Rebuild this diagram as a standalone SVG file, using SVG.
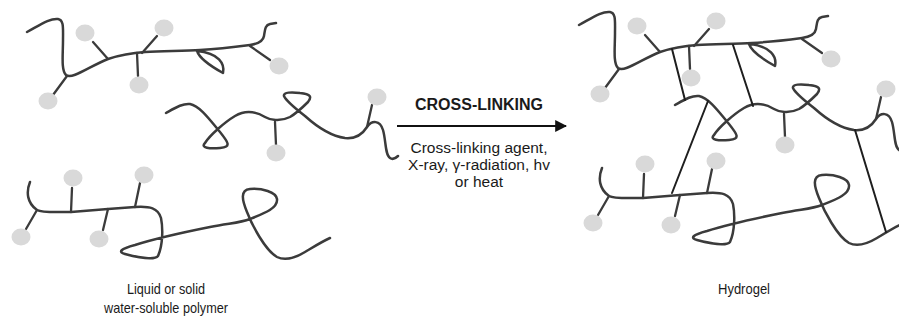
<svg xmlns="http://www.w3.org/2000/svg" xmlns:xlink="http://www.w3.org/1999/xlink" width="899" height="321" viewBox="0 0 899 321">
  <style>
    .chain { fill: none; stroke: #3b3b3b; stroke-width: 2.5; stroke-linecap: round; stroke-linejoin: round; }
    .side { fill: none; stroke: #3b3b3b; stroke-width: 2.3; stroke-linecap: round; }
    .bead { fill: #d9d9d9; stroke: none; }
    .xlink { fill: none; stroke: #1e1e1e; stroke-width: 2; stroke-linecap: round; }
    .label { font-family: "Liberation Sans", Arial, sans-serif; fill: #1a1a1a; text-anchor: middle; }
    .title { font-weight: bold; font-size: 16px; }
    .cond { font-size: 15.5px; }
    .cap { font-size: 14.5px; }
  </style>
  <defs>
    <marker id="arrowhead" viewBox="0 0 10 10" refX="9" refY="5" markerWidth="6" markerHeight="6" markerUnits="strokeWidth" orient="auto">
      <path d="M0,0 L10,5 L0,10 Z" fill="#111"/>
    </marker>

    <!-- polymer strand A: long chain with five pendant groups and a small loop -->
    <g id="strandA">
      <path class="side" d="M67,76 L53,95"/>
      <path class="side" d="M108,59 L93,42"/>
      <path class="side" d="M137,53 L138,76"/>
      <path class="side" d="M142,53 L157,36"/>
      <path class="side" d="M250,46 L270,60"/>
      <path class="chain" d="M27,32 C40,25 50,18 58,19 C64,20 63,28 63,40 C63,55 61,70 66,75 C72,80 90,66 108,59 C120,55 130,53 145,52 C165,51 185,51 200,50 C220,49 235,47 250,45 C257,44 263,42 264,36 C265,30 265,25 270,24 L276,23"/>
      <path class="chain" d="M197,51 C200,60 214,68 223,73 C225,64 219,53 197,51"/>
      <ellipse class="bead" cx="48" cy="101" rx="9.5" ry="8.5"/>
      <ellipse class="bead" cx="85" cy="33" rx="9.5" ry="8.5"/>
      <ellipse class="bead" cx="139" cy="85" rx="9.5" ry="8.5"/>
      <ellipse class="bead" cx="164" cy="28" rx="9.5" ry="8.5"/>
      <ellipse class="bead" cx="279" cy="66" rx="9.5" ry="8.5"/>
    </g>

    <!-- polymer strand B: coiled chain with two loops and two pendant groups -->
    <g id="strandB">
      <path class="side" d="M275,122 L276,145"/>
      <path class="side" d="M367,127 L372,105"/>
      <path class="chain" d="M166,113 C175,108 183,103 190,104 C200,106 210,120 220,132 C228,142 232,147 220,148 C210,149 200,148 205,143 C210,135 225,122 235,116 C245,110 255,111 265,117 C270,120 280,122 290,117 C295,114 303,107 308,102 C312,97 311,94 300,93 C292,92 283,92 284,96 C286,101 296,109 305,116 C315,125 330,136 345,138 C355,139 362,135 367,127 C372,120 380,120 383,130 C386,140 385,155 390,158 C393,160 396,158 398,156"/>
      <ellipse class="bead" cx="276" cy="153" rx="9.5" ry="8.5"/>
      <ellipse class="bead" cx="377" cy="97" rx="9.5" ry="8.5"/>
    </g>

    <!-- polymer strand C: chain with four pendant groups and two large loops -->
    <g id="strandC">
      <path class="side" d="M37,210 L26,229"/>
      <path class="side" d="M71,212 L72,188"/>
      <path class="side" d="M108,209 L103,230"/>
      <path class="side" d="M135,207 L140,183"/>
      <path class="chain" d="M30,182 C26,192 27,203 37,210 C42,213 55,212 71,212 L108,209 L135,207 C150,206 158,208 161,218 C163,228 163,245 158,256 C155,260 140,258 125,254 C118,252 120,249 135,245 C160,237 185,232 210,227 C230,223 240,223 250,219 C265,213 278,208 277,199 C276,192 262,188 250,189 C240,190 242,200 247,212 C252,225 265,250 277,257 C285,261 295,258 305,252 C315,246 323,241 330,238"/>
      <ellipse class="bead" cx="21" cy="237" rx="9.5" ry="8.5"/>
      <ellipse class="bead" cx="73" cy="178" rx="9.5" ry="8.5"/>
      <ellipse class="bead" cx="99" cy="239" rx="9.5" ry="8.5"/>
      <ellipse class="bead" cx="144" cy="175" rx="9.5" ry="8.5"/>
    </g>
  </defs>

  <rect width="899" height="321" fill="#ffffff"/>

  <!-- free polymer chains -->
  <g id="polymer-solution">
    <use id="chain-1" xlink:href="#strandA" href="#strandA"/>
    <use id="chain-2" xlink:href="#strandB" href="#strandB"/>
    <use id="chain-3" xlink:href="#strandC" href="#strandC"/>
  </g>

  <!-- cross-linked network -->
  <g id="hydrogel">
    <use id="gel-chain-1" xlink:href="#strandA" href="#strandA" transform="translate(552,-7)"/>
    <use id="gel-chain-2" xlink:href="#strandB" href="#strandB" transform="translate(509,-8)"/>
    <use id="gel-chain-3" xlink:href="#strandC" href="#strandC" transform="translate(572,-14)"/>
  </g>

  <!-- connectors: cross-link bonds and the process arrow -->
  <g id="connectors">
    <path class="xlink" d="M672,49 L685,100"/>
    <path class="xlink" d="M733,45 L753,106"/>
    <path class="xlink" d="M708,101 L672,193"/>
    <path class="xlink" d="M855,130 L886,232"/>
    <path d="M397,126 L566,126" stroke="#111" stroke-width="2" fill="none" marker-end="url(#arrowhead)"/>
  </g>

  <g id="process-labels">
    <text class="label title" x="479" y="110">CROSS-LINKING</text>
    <text class="label cond" x="479" y="153">Cross-linking agent,</text>
    <text class="label cond" x="479" y="170">X-ray, γ-radiation, hv</text>
    <text class="label cond" x="479" y="187">or heat</text>
  </g>

  <g id="captions">
    <text class="label cap" x="166" y="294" textLength="78" lengthAdjust="spacingAndGlyphs">Liquid or solid</text>
    <text class="label cap" x="166" y="313" textLength="124" lengthAdjust="spacingAndGlyphs">water-soluble polymer</text>
    <text class="label cap" x="744" y="294" textLength="52" lengthAdjust="spacingAndGlyphs">Hydrogel</text>
  </g>
</svg>
